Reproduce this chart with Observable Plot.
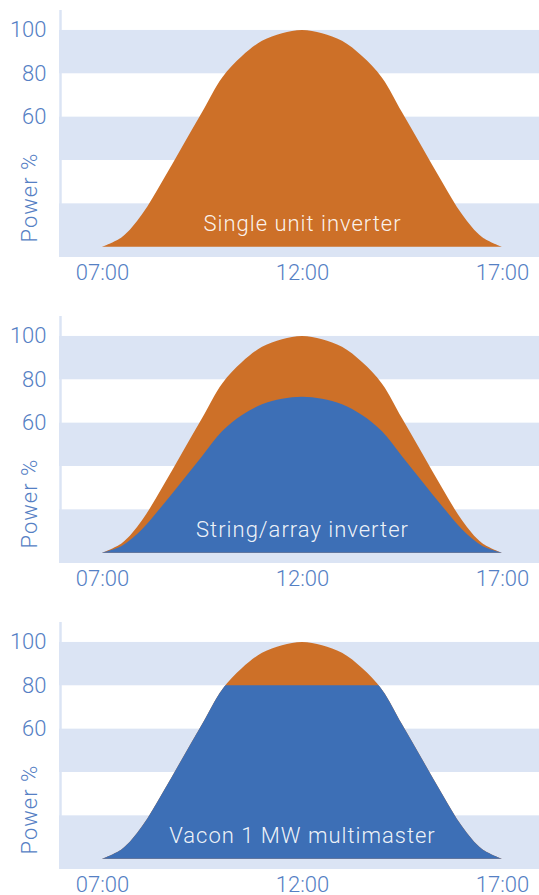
<!DOCTYPE html>
<html><head><meta charset="utf-8">
<script src="https://cdn.jsdelivr.net/npm/d3@7"></script>
<script src="https://cdn.jsdelivr.net/npm/@observablehq/plot@0.6"></script>
<style>
html,body{margin:0;padding:0;background:#fff;overflow:hidden}
.panel{position:relative;width:539px}
.overlay{position:absolute;left:0;top:0}
.panel svg g[aria-label="text"] text{letter-spacing:1px}
</style></head><body><div id="chart"></div>
<script>
// Data
const hours = [7,7.5,8,8.5,9,9.5,10,10.5,11,11.5,12,12.5,13,13.5,14,14.5,15,15.5,16,16.5,17];
const potentialPower = [0,4.5,15,30,46,62,78,88,95,98.5,100,98.5,95,88,78,62,46,30,15,4.5,0];
const stringArrayPower = [0,3.2,10.8,21.6,33,44.5,56,63.5,68.5,71,72,71,68.5,63.5,56,44.5,33,21.6,10.8,3.2,0];
const multimasterLimit = 80;
const panelLabels = ["Single unit inverter","String/array inverter","Vacon 1 MW multimaster"];
const yTicks = [60,80,100];
const xTicks = [7,12,17];
const xTickLabels = ["07:00","12:00","17:00"];
const bandLow = [80,40,-4.75];
const bandHigh = [100,60,20];

const ORANGE="#cd7028", BLUE="#3d6fb6", BAND="#dbe4f4", INK="#5580c4";
const W=539, MT=10, FRAME_BOTTOM=257, ML=59;
const X_DOMAIN=[5.925,17.925], Y_DOMAIN=[-4.75,109.2];
const heights=[306,306,283];
const CURVE="catmull-rom";

const potential = hours.map((t,i)=>({t, v: potentialPower[i]}));
const stringArr = hours.map((t,i)=>({t, v: stringArrayPower[i]}));
const bands = bandLow.map((lo,i)=>({lo, hi: bandHigh[i]}));

function baseStyle(bg){
  return {fontFamily:"Roboto, sans-serif", fontSize:"22px", fontWeight:300, color:INK, background:bg, overflow:"visible"};
}
function labelMark(label){
  return Plot.text([label], {x: ()=>xTicks[1], frameAnchor:"bottom", dy:-27, fill:"#fff", fillOpacity:0.93});
}

const root = document.getElementById("chart");
for (let p=0;p<3;p++){
  const h = heights[p];
  const div = document.createElement("div");
  div.className="panel"; div.style.height=h+"px";
  root.appendChild(div);
  const marks = [
    Plot.rect(bands, {y1:"lo", y2:"hi", fill:BAND}),
    Plot.ruleX([X_DOMAIN[0]], {stroke:BAND, strokeWidth:2.5, dx:1}),
    Plot.areaY(potential, {x:"t", y:"v", fill:ORANGE, curve:CURVE}),
  ];
  if (p===1) marks.push(Plot.areaY(stringArr, {x:"t", y:"v", fill:BLUE, curve:CURVE}));
  if (p!==2) marks.push(labelMark(panelLabels[p]));
  marks.push(
    Plot.axisY(yTicks, {tickSize:0, tickPadding:13, label:null}),
    Plot.axisX(xTicks, {tickSize:0, tickPadding:7, label:null, tickFormat: d => xTickLabels[xTicks.indexOf(d)]}),
    Plot.text(["Power %"], {frameAnchor:"bottom-left", rotate:-90, textAnchor:"start", dx:-23, dy:-15})
  );
  const plot = Plot.plot({
    width:W, height:h, marginTop:MT, marginBottom:h-FRAME_BOTTOM, marginLeft:ML, marginRight:0,
    x:{domain:X_DOMAIN, axis:null, label:null}, y:{domain:Y_DOMAIN, axis:null, label:null},
    style: baseStyle("#fff"),
    marks
  });
  div.appendChild(plot);
  if (p===2){
    const k = (FRAME_BOTTOM-MT)/(Y_DOMAIN[1]-Y_DOMAIN[0]);
    const mt = MT + (Y_DOMAIN[1]-multimasterLimit)*k;
    const ov = Plot.plot({
      width:W, height:h, marginTop:mt, marginBottom:h-FRAME_BOTTOM, marginLeft:ML, marginRight:0,
      x:{domain:X_DOMAIN, axis:null}, y:{domain:[Y_DOMAIN[0], multimasterLimit], axis:null},
      style: baseStyle("transparent"),
      marks:[
        Plot.areaY(potential, {x:"t", y:"v", fill:BLUE, curve:CURVE, clip:true}),
        labelMark(panelLabels[2])
      ]
    });
    ov.classList.add("overlay");
    div.appendChild(ov);
  }
}
</script></body></html>
